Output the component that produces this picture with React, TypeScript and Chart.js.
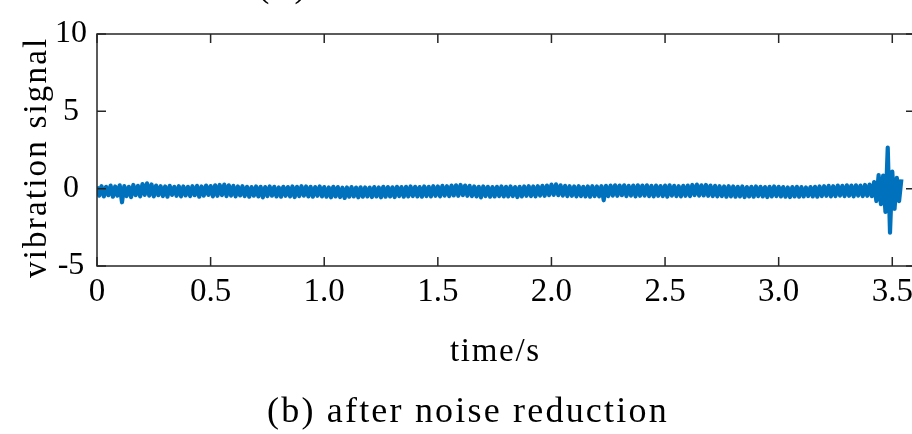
import { useEffect, useRef } from 'react';
import { Chart, registerables } from 'chart.js';

Chart.register(...registerables);

// ---- data ----
const SAMPLE_STEP = 0.01; // seconds between samples
const signal: number[] = [
  // 0.00 - 0.19
  0.14, -0.45, 0.16, -0.5, 0.12, -0.42, 0.2, -0.52, 0.14, -0.45, 0.22, -0.88, 0.16, -0.48, 0.12, -0.55, 0.24, -0.42, 0.18, -0.5,
  // 0.20 - 0.39
  0.3, -0.4, 0.34, -0.45, 0.27, -0.5, 0.2, -0.42, 0.16, -0.48, 0.14, -0.52, 0.18, -0.4, 0.12, -0.46, 0.16, -0.5, 0.14, -0.44,
  // 0.40 - 0.59
  0.12, -0.48, 0.16, -0.42, 0.18, -0.52, 0.14, -0.45, 0.2, -0.4, 0.17, -0.5, 0.22, -0.46, 0.24, -0.42, 0.26, -0.48, 0.22, -0.45,
  // 0.60 - 0.79
  0.18, -0.5, 0.14, -0.44, 0.16, -0.48, 0.12, -0.52, 0.1, -0.45, 0.14, -0.5, 0.12, -0.56, 0.1, -0.48, 0.14, -0.45, 0.12, -0.5,
  // 0.80 - 0.99
  0.08, -0.52, 0.12, -0.46, 0.1, -0.5, 0.14, -0.54, 0.12, -0.48, 0.16, -0.45, 0.14, -0.5, 0.12, -0.52, 0.1, -0.46, 0.14, -0.5,
  // 1.00 - 1.19
  0.1, -0.52, 0.08, -0.56, 0.12, -0.5, 0.1, -0.54, 0.06, -0.6, 0.08, -0.52, 0.1, -0.5, 0.07, -0.56, 0.09, -0.52, 0.08, -0.5,
  // 1.20 - 1.39
  0.07, -0.54, 0.1, -0.5, 0.08, -0.56, 0.12, -0.52, 0.1, -0.5, 0.09, -0.54, 0.12, -0.48, 0.1, -0.52, 0.12, -0.5, 0.14, -0.48,
  // 1.40 - 1.59
  0.12, -0.5, 0.1, -0.52, 0.14, -0.48, 0.12, -0.5, 0.16, -0.46, 0.14, -0.5, 0.18, -0.45, 0.16, -0.48, 0.2, -0.44, 0.22, -0.46,
  // 1.60 - 1.79
  0.24, -0.42, 0.2, -0.46, 0.18, -0.48, 0.14, -0.5, 0.12, -0.56, 0.14, -0.48, 0.12, -0.52, 0.1, -0.5, 0.12, -0.48, 0.14, -0.5,
  // 1.80 - 1.99
  0.12, -0.5, 0.14, -0.48, 0.1, -0.54, 0.12, -0.5, 0.14, -0.46, 0.16, -0.48, 0.14, -0.5, 0.16, -0.45, 0.18, -0.46, 0.2, -0.42,
  // 2.00 - 2.19
  0.26, -0.4, 0.28, -0.42, 0.22, -0.45, 0.18, -0.48, 0.16, -0.46, 0.14, -0.5, 0.16, -0.48, 0.12, -0.5, 0.14, -0.52, 0.16, -0.48,
  // 2.20 - 2.39
  0.14, -0.5, 0.16, -0.75, 0.18, -0.48, 0.2, -0.45, 0.22, -0.46, 0.2, -0.42, 0.22, -0.48, 0.18, -0.45, 0.2, -0.5, 0.22, -0.46,
  // 2.40 - 2.59
  0.2, -0.45, 0.22, -0.48, 0.18, -0.5, 0.2, -0.46, 0.17, -0.48, 0.2, -0.52, 0.22, -0.45, 0.18, -0.48, 0.16, -0.5, 0.18, -0.46,
  // 2.60 - 2.79
  0.2, -0.48, 0.24, -0.42, 0.26, -0.45, 0.22, -0.44, 0.24, -0.46, 0.2, -0.48, 0.18, -0.5, 0.16, -0.48, 0.14, -0.52, 0.16, -0.5,
  // 2.80 - 2.99
  0.14, -0.52, 0.12, -0.5, 0.14, -0.54, 0.1, -0.5, 0.12, -0.52, 0.14, -0.48, 0.12, -0.5, 0.1, -0.54, 0.12, -0.5, 0.14, -0.48,
  // 3.00 - 3.19
  0.12, -0.5, 0.1, -0.52, 0.08, -0.54, 0.1, -0.5, 0.12, -0.52, 0.1, -0.5, 0.08, -0.48, 0.1, -0.5, 0.12, -0.52, 0.14, -0.48,
  // 3.20 - 3.39
  0.16, -0.46, 0.18, -0.5, 0.16, -0.48, 0.2, -0.45, 0.18, -0.48, 0.22, -0.46, 0.2, -0.5, 0.22, -0.45, 0.2, -0.48, 0.24, -0.46,
  // 3.40 - 3.54
  0.26, -0.48, 0.42, -0.8, 0.88, -1.0, 0.85, -1.5, 2.65, -2.85, 1.1, -1.3, 0.7, -0.8, 0.6,
];

const xTicks = [0, 0.5, 1.0, 1.5, 2.0, 2.5, 3.0, 3.5];
const yTicks = [-5, 0, 5, 10];
const X_MIN = 0;
const X_MAX = 3.6;
const Y_MIN = -5;
const Y_MAX = 10;

const xTitle = 'time/s';
const yTitle = 'vibration signal';
const caption = '(b) after noise reduction';
const prevCaption = '(a)';

const LINE_COLOR = '#0072BD';
const AXIS_COLOR = '#262626';
const FONT = '"Liberation Serif", "Times New Roman", serif';

const CANVAS_W = 930;
const CANVAS_H = 434;

const framePlugin = {
  id: 'matlabFrame',
  afterDraw(chart: any) {
    const { ctx, chartArea: a, scales } = chart;
    const tl = 9;
    ctx.save();
    ctx.strokeStyle = AXIS_COLOR;
    ctx.lineWidth = 1.5;
    ctx.strokeRect(a.left, a.top, a.right - a.left, a.bottom - a.top);
    ctx.beginPath();
    for (const v of xTicks) {
      const px = scales.x.getPixelForValue(v);
      ctx.moveTo(px, a.bottom);
      ctx.lineTo(px, a.bottom - tl);
      ctx.moveTo(px, a.top);
      ctx.lineTo(px, a.top + tl);
    }
    for (const v of yTicks) {
      const py = scales.y.getPixelForValue(v);
      ctx.moveTo(a.left, py);
      ctx.lineTo(a.left + tl, py);
      ctx.moveTo(a.right, py);
      ctx.lineTo(a.right - tl, py);
    }
    ctx.stroke();

    ctx.fillStyle = '#000';
    ctx.textBaseline = 'alphabetic';
    ctx.textAlign = 'left';
    // x title
    ctx.font = `33px ${FONT}`;
    (ctx as any).letterSpacing = '1.7px';
    ctx.fillText(xTitle, 450, 361);
    // y title
    ctx.save();
    ctx.translate(46, 278);
    ctx.rotate(-Math.PI / 2);
    ctx.font = `33px ${FONT}`;
    (ctx as any).letterSpacing = '2.2px';
    ctx.fillText(yTitle, 0, 0);
    ctx.restore();
    // caption
    ctx.font = `36px ${FONT}`;
    (ctx as any).letterSpacing = '2.2px';
    ctx.fillText(caption, 267, 422);
    // remnant of the previous panel caption (cut off at the top)
    ctx.font = `34px ${FONT}`;
    (ctx as any).letterSpacing = '5px';
    ctx.fillText(prevCaption, 258, -3);
    (ctx as any).letterSpacing = '0px';
    ctx.restore();
  },
};

export default function App() {
  const ref = useRef<HTMLCanvasElement>(null);
  useEffect(() => {
    if (!ref.current) return;
    const points = signal.map((v, i) => ({ x: +(i * SAMPLE_STEP).toFixed(2), y: v }));
    const chart = new Chart(ref.current, {
      type: 'line',
      data: {
        datasets: [
          {
            data: points,
            borderColor: LINE_COLOR,
            borderWidth: 4.2,
            borderJoinStyle: 'round',
            pointRadius: 0,
            tension: 0,
            fill: false,
          },
        ],
      },
      options: {
        animation: false,
        responsive: false,
        events: [],
        layout: { padding: { left: 0, right: CANVAS_W - 915, top: 34, bottom: 0 } },
        plugins: { legend: { display: false }, tooltip: { enabled: false } },
        scales: {
          x: {
            type: 'linear',
            min: X_MIN,
            max: X_MAX,
            afterBuildTicks: (s: any) => {
              s.ticks = xTicks.map((v) => ({ value: v }));
            },
            afterFit: (s: any) => {
              s.height = CANVAS_H - 266;
            },
            grid: { display: false, drawTicks: false },
            border: { display: false },
            ticks: {
              color: '#000',
              font: { family: FONT, size: 33 },
              padding: 7,
              maxRotation: 0,
              autoSkip: false,
              callback: (v: any) => (Number(v) === 0 ? '0' : Number(v).toFixed(1)),
            },
          },
          y: {
            type: 'linear',
            min: Y_MIN,
            max: Y_MAX,
            afterBuildTicks: (s: any) => {
              s.ticks = yTicks.map((v) => ({ value: v }));
            },
            afterFit: (s: any) => {
              s.width = 97;
            },
            grid: { display: false, drawTicks: false },
            border: { display: false },
            ticks: {
              color: '#000',
              font: { family: FONT, size: 32 },
              padding: 10,
              crossAlign: 'center',
              autoSkip: false,
              callback: (v: any) => String(v),
            },
          },
        },
      },
      plugins: [framePlugin],
    } as any);
    return () => chart.destroy();
  }, []);

  return (
    <div
      style={{
        position: 'absolute',
        left: 0,
        top: 0,
        width: 912,
        height: 434,
        overflow: 'hidden',
        background: '#fff',
      }}
    >
      <canvas
        ref={ref}
        width={CANVAS_W}
        height={CANVAS_H}
        style={{ width: CANVAS_W, height: CANVAS_H, display: 'block' }}
      />
    </div>
  );
}
